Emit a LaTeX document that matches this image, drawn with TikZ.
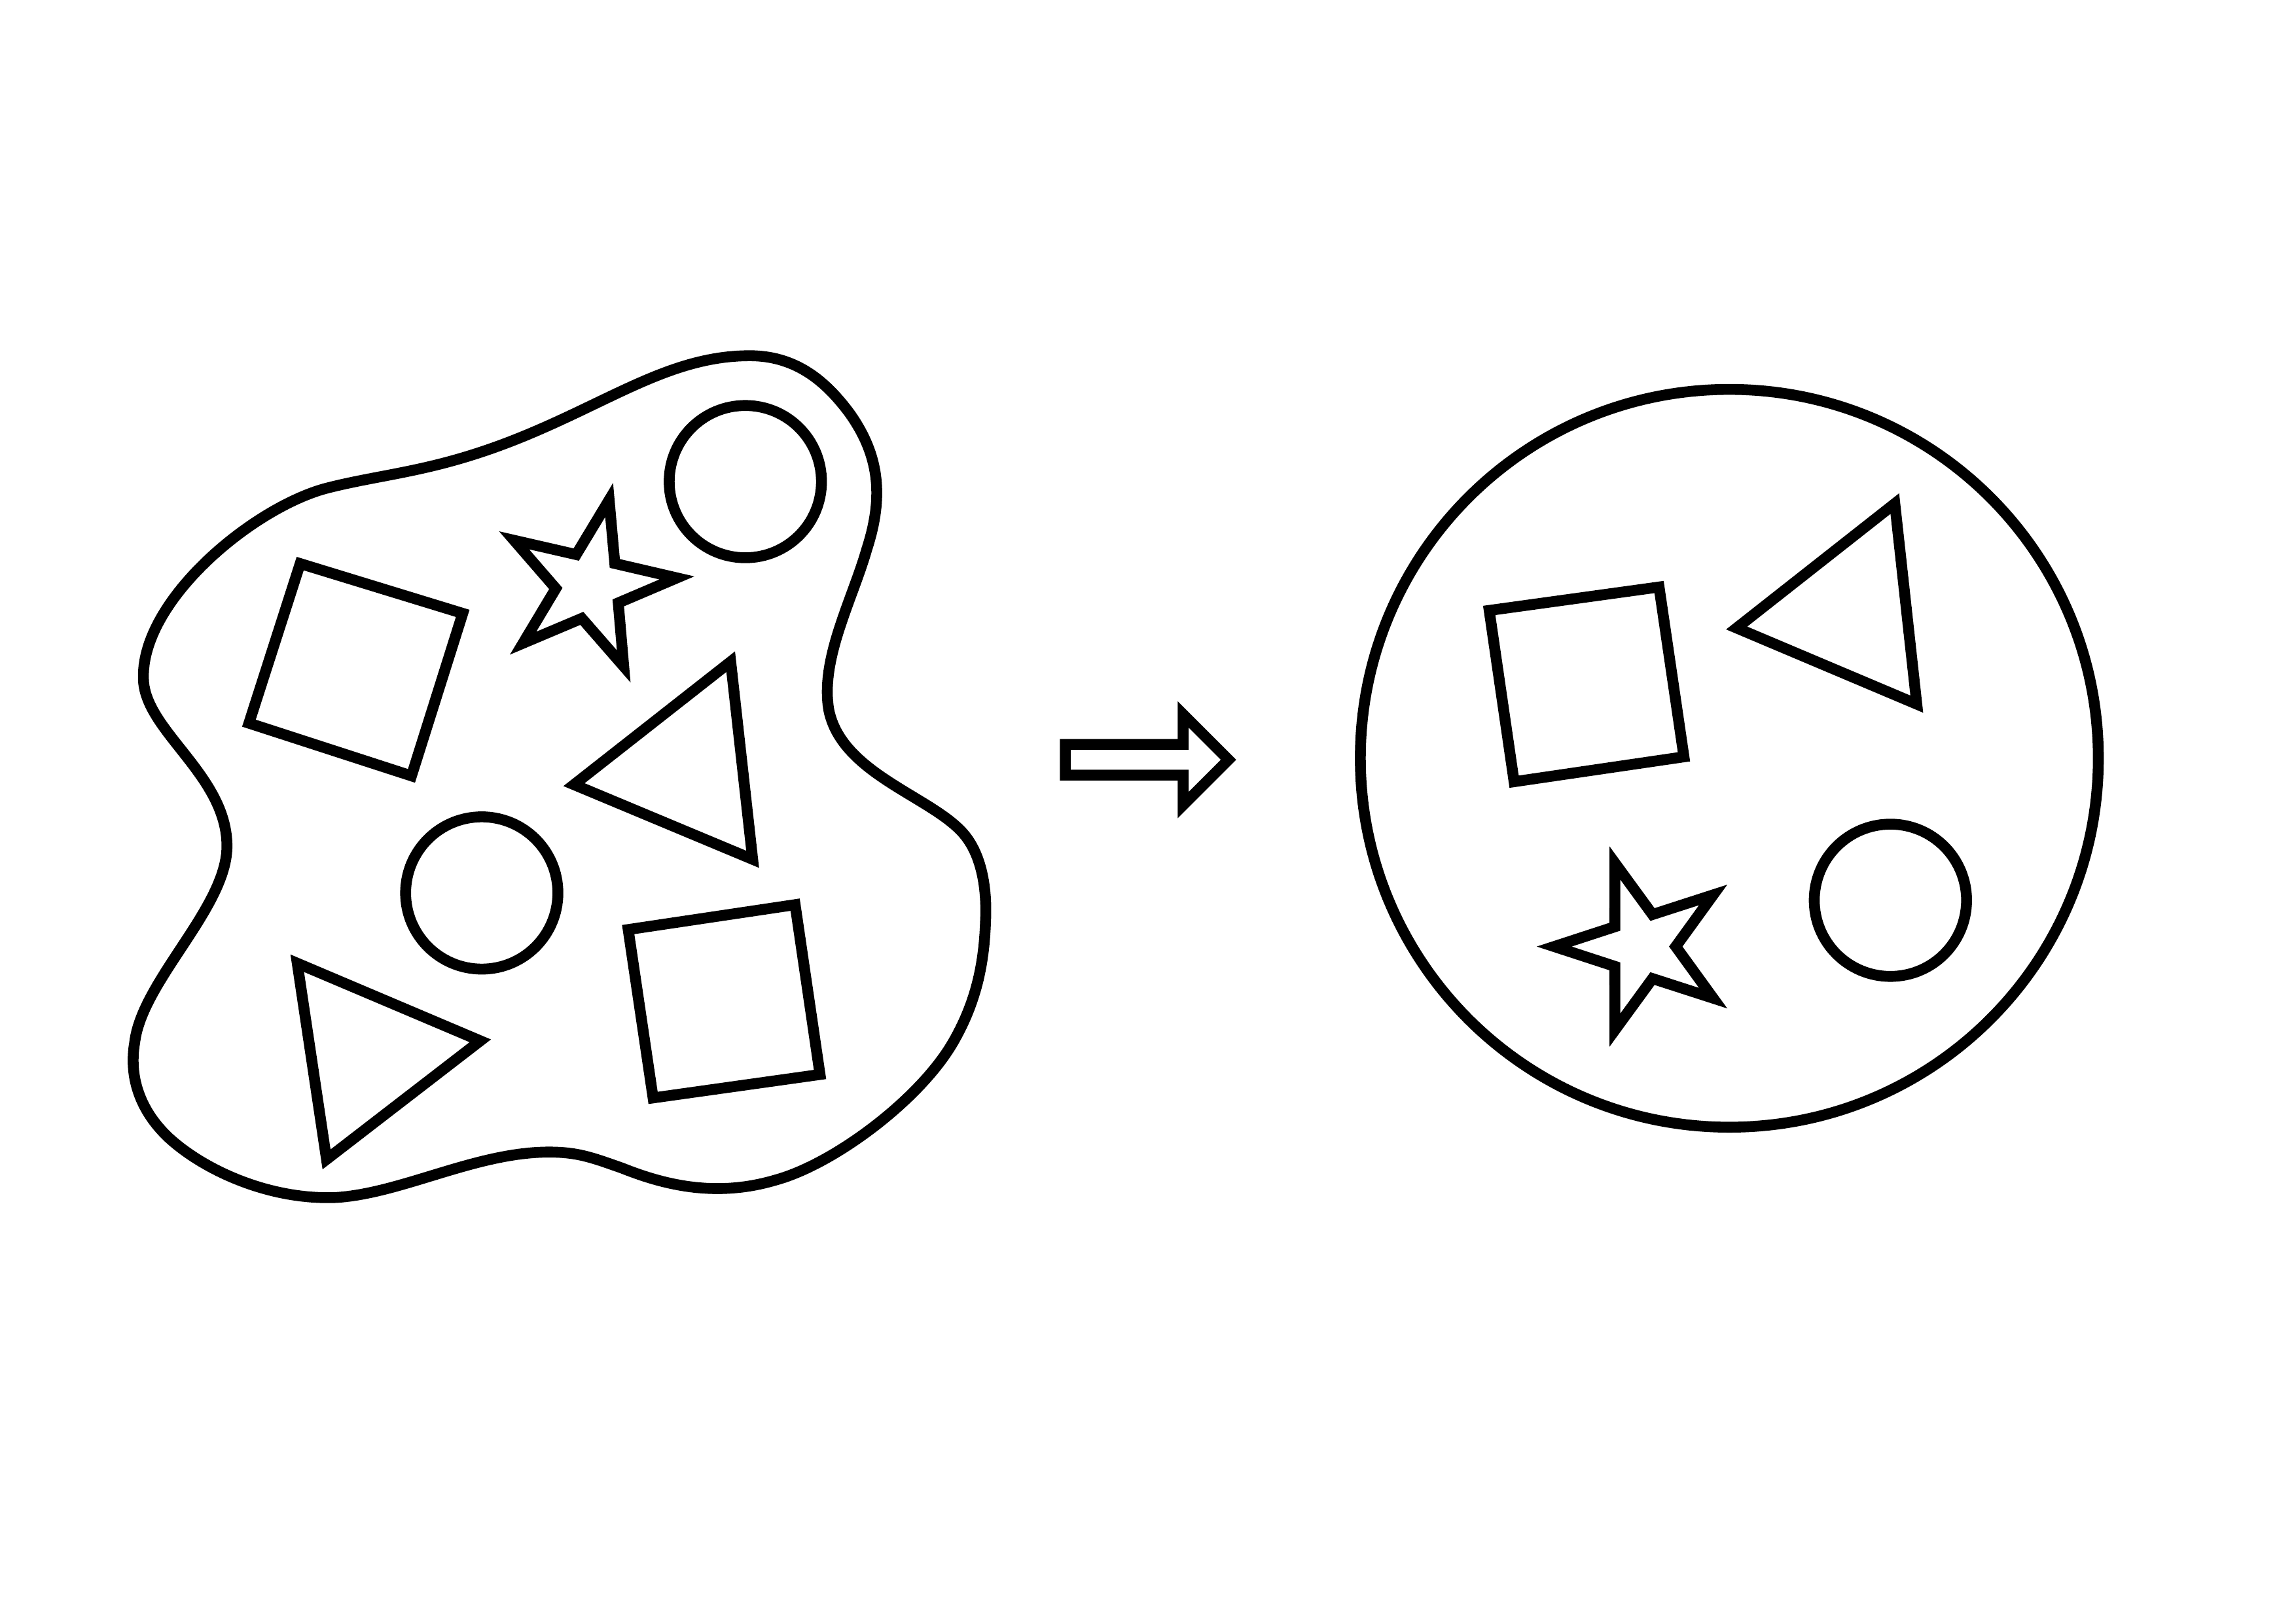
\documentclass[tikz,border=0pt]{standalone}
\newcommand{\shapestar}[2]{% center, rotation
  \begin{scope}[shift={#1}, rotate=#2]
    \draw (0:23) -- (36:60) -- (72:23) -- (108:60) -- (144:23) -- (180:60)
      -- (216:23) -- (252:60) -- (288:23) -- (324:60) -- cycle;
  \end{scope}}
\begin{document}
\begin{tikzpicture}[x=0.18941mm, y=-0.18941mm, line width=4pt, line join=miter]
\useasboundingbox (0,0) rectangle (1568,1109);

% Draw blob
\draw (225,333) .. controls (265,323) and (300,322) .. (360,297)
  .. controls (420,272) and (460,243) .. (512,243)
  .. controls (545,243) and (565,262) .. (580,282)
  .. controls (600,310) and (604,338) .. (592,375)
  .. controls (582,410) and (560,450) .. (566,485)
  .. controls (575,530) and (640,545) .. (660,572)
  .. controls (672,588) and (674,612) .. (673,630)
  .. controls (672,660) and (666,685) .. (652,710)
  .. controls (630,750) and (570,795) .. (530,806)
  .. controls (490,818) and (455,810) .. (425,798)
  .. controls (405,791) and (395,787) .. (375,787)
  .. controls (325,787) and (275,815) .. (230,818)
  .. controls (185,820) and (140,800) .. (115,777)
  .. controls (95,758) and (88,735) .. (92,712)
  .. controls (97,670) and (155,620) .. (155,578)
  .. controls (155,530) and (100,500) .. (98,465)
  .. controls (95,410) and (175,345) .. cycle;

% Shapes in blob
\draw (509,329) circle (52);
\draw (329,610) circle (52);
\draw (205,385) -- (316,419) -- (281,530) -- (170,494) -- cycle;
\draw (429,635) -- (543,618) -- (560,734) -- (446,750) -- cycle;
\draw (499,452) -- (514,587) -- (392,536) -- cycle;
\draw (203,658) -- (328,711) -- (223,792) -- cycle;
\shapestar{(402.5,400)}{-31}

% Draw arrow
\draw (727.5,508.5) -- (808,508.5) -- (808,488) -- (839,519) -- (808,550)
  -- (808,529.5) -- (727.5,529.5) -- cycle;

% Circle with sorted shapes
\draw (1181,518) circle (252);
\draw (1017,417) -- (1133,401) -- (1150,517) -- (1034,534) -- cycle;
\draw (1294,344) -- (1309,481) -- (1186,429) -- cycle;
\draw (1291,615) circle (52);
\shapestar{(1121.4,646.6)}{0}
\end{tikzpicture}
\end{document}
